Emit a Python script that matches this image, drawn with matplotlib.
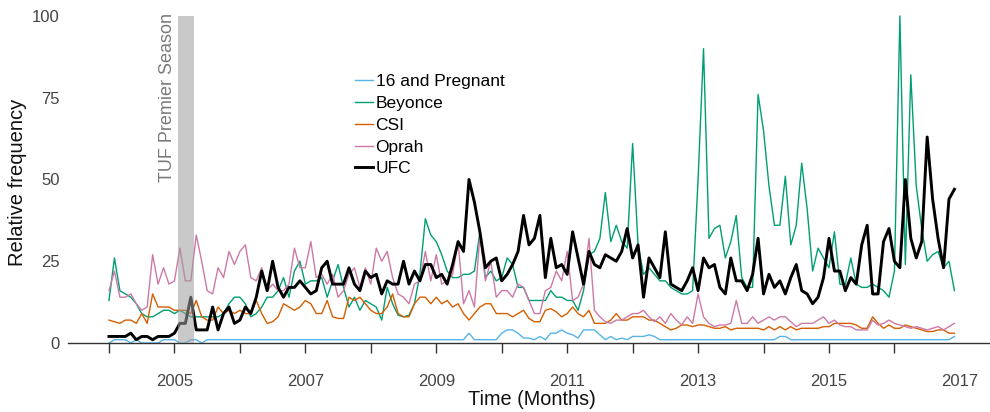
import numpy as np
import matplotlib
matplotlib.use("Agg")
import matplotlib.pyplot as plt

plt.rcParams["font.family"] = ["Liberation Sans", "DejaVu Sans"]

# monthly relative search frequency, Jan 2004 - Dec 2016
start_year = 2004
n_months = 156

ufc = [
    2, 2, 2, 2, 3, 1, 2, 2, 1, 2, 2, 2,
    3, 6, 6, 14, 4, 4, 4, 11, 4, 9, 11, 6,
    7, 11, 9, 14, 22, 16, 25, 17, 14, 17, 17, 19,
    17, 15, 16, 23, 25, 18, 18, 18, 23, 18, 16, 22,
    20, 21, 15, 19, 18, 18, 25, 18, 22, 19, 24, 24,
    20, 21, 18, 24, 31, 28, 50, 43, 34, 23, 25, 26,
    19, 21, 24, 28, 39, 30, 32, 39, 20, 32, 23, 24,
    21, 34, 26, 18, 28, 24, 23, 27, 26, 25, 28, 35,
    26, 30, 14, 26, 23, 20, 34, 18, 17, 16, 19, 23,
    16, 26, 23, 24, 17, 15, 26, 19, 19, 16, 21, 32,
    15, 21, 17, 19, 15, 20, 24, 16, 15, 12, 14, 20,
    32, 22, 22, 16, 20, 18, 30, 36, 15, 15, 31, 35,
    25, 23, 50, 32, 26, 31, 63, 44, 32, 23, 44, 47,
]

beyonce = [
    13, 26, 16, 15, 14, 12, 9, 8, 8, 9, 10, 10,
    9, 10, 9, 8, 8, 8, 8, 8, 8, 9, 12, 14,
    14, 12, 8, 9, 11, 14, 14, 16, 20, 14, 22, 25,
    18, 19, 19, 20, 14, 19, 24, 17, 11, 14, 10, 13,
    12, 11, 7, 17, 12, 8.5, 8, 8.5, 12, 21, 38, 33,
    31, 27, 22, 20, 20, 21, 21, 22, 34, 20, 22, 19,
    20, 26, 24, 17, 17, 13, 13, 13, 13, 16, 14, 14,
    13, 13, 10, 16, 27, 28, 32, 46, 31, 36, 31, 29,
    61, 30, 21, 23, 21, 19, 19, 17, 16, 15, 15, 16,
    50, 90, 32, 35, 36, 26, 31, 39, 20, 17, 17, 76,
    65, 48, 36, 36, 51, 30, 36, 55, 41, 22, 29, 26,
    23, 34, 18, 18, 26, 18, 17, 17, 18, 17, 16, 14,
    22, 100, 24, 82, 48, 35, 25, 27, 28, 23, 25, 16,
]

csi = [
    7, 6.5, 6, 7, 7, 6, 9, 6, 15, 11, 11, 11,
    10, 10, 10, 9, 13, 8, 7, 7, 11, 9, 10, 9,
    10, 9, 9, 13, 9, 6, 6.5, 8, 12, 11, 10, 11,
    13, 12, 9, 9, 13, 8, 7.5, 7.5, 14, 13, 14, 12,
    10, 9, 9, 11, 15, 9, 8, 8, 12, 14, 14, 12,
    14, 12, 13, 11, 12, 9, 7, 9, 11, 12, 12, 9,
    9, 9, 8, 9, 10, 7.5, 6.5, 6.5, 10, 10.5, 9.5, 8,
    9, 11, 9, 8, 10, 6, 6, 6, 7, 9, 7, 7,
    8, 8, 8, 7, 7, 6, 5, 4, 4.5, 5.5, 5.5, 5,
    5.5, 5.5, 5, 4.5, 4.5, 5, 4, 4.5, 4.5, 4.5, 4.5, 4.5,
    4, 5, 4, 5, 4, 5, 4, 4.5, 4.5, 4.5, 4.5, 5,
    5, 6, 6, 6, 6, 5.5, 4.5, 4.5, 8, 6, 4.5, 5.5,
    4.5, 4.5, 5.5, 5, 4.5, 4, 3.5, 3.5, 4, 4, 3, 3,
]

oprah = [
    16, 22, 14, 14, 15, 12, 10, 11, 27, 18, 23, 18,
    19, 29, 19, 19, 33, 25, 16, 15, 23, 20, 28, 24,
    28, 30, 20, 19, 23, 16, 18, 16, 16, 18, 29, 23,
    23, 31, 20, 21, 18, 21, 14, 16, 21, 23, 17, 23,
    18, 29, 25, 28, 20, 15, 14, 12, 18, 19, 28, 19,
    27, 18, 19, 21, 31, 12, 16, 11, 33, 19, 25, 14,
    16, 16, 14, 18, 17, 13, 9, 9, 16, 17, 22, 19,
    28, 13, 14, 18, 32, 10, 8, 6.5, 6, 7, 7, 8,
    9, 9, 10, 8, 6.5, 8, 6, 9, 7, 5.5, 8, 6,
    15, 8, 6, 5, 5.5, 5.5, 6, 13, 6, 6, 8, 6,
    7, 8, 7, 8, 8, 6.5, 5, 6, 6, 6, 7, 8,
    6, 7, 5.5, 5, 5, 4, 4, 4, 7, 5.5, 6, 7,
    6, 5.5, 5, 4.5, 5, 4.5, 4, 4.5, 5, 4, 5, 6,
]

pregnant16 = [
    0, 1, 1, 1, 0, 1, 0, 0, 0, 0, 1, 1,
    1, 0, 0, 1, 1, 0, 1, 1, 1, 1, 1, 1,
    1, 1, 1, 1, 1, 1, 1, 1, 1, 1, 1, 1,
    1, 1, 1, 1, 1, 1, 1, 1, 1, 1, 1, 1,
    1, 1, 1, 1, 1, 1, 1, 1, 1, 1, 1, 1,
    1, 1, 1, 1, 1, 1, 3, 1, 1, 1, 1, 1,
    3, 4, 4, 3, 1.5, 1.5, 1, 2, 1, 3, 3, 4,
    3, 2.5, 1.5, 4, 4, 4, 2.5, 1, 2, 1, 1.5, 1,
    2, 2, 2, 2.5, 2, 1, 1, 1, 1, 1, 1, 1,
    1, 1, 1, 1, 1, 1, 1, 1, 1, 1, 1, 1,
    1, 1, 1, 2, 2, 1, 1, 1, 1, 1, 1, 1,
    1, 1, 1, 1, 1, 1, 1, 1, 1, 1, 1, 1,
    1, 1, 1, 1, 1, 1, 1, 1, 1, 1, 1, 2,
]

series_names = ["16 and Pregnant", "Beyonce", "CSI", "Oprah", "UFC"]
series_colors = ["#56B4E9", "#009E73", "#D55E00", "#CC79A7", "black"]
series_widths = [1.0, 1.0, 1.0, 1.0, 2.1]

tuf_start, tuf_end = 2005.05, 2005.30

months = start_year + np.arange(n_months) / 12.0

fig = plt.figure(figsize=(9.9, 4.12), dpi=100)
ax = fig.add_axes([0.0687, 0.1675, 0.9313, 0.7937])

for name, vals, col, lw in zip(series_names,
                               [pregnant16, beyonce, csi, oprah, ufc],
                               series_colors, series_widths):
    ax.plot(months, vals, color=col, lw=lw, label=name, clip_on=False)

ax.axvspan(tuf_start, tuf_end, color="#9e9e9e", alpha=0.55, lw=0, zorder=5)
ax.text(2004.9, 100.8, "TUF Premier Season", rotation=90, ha="center", va="top",
        fontsize=13, color="#7a7a7a")

ax.set_xlim(2003.374, 2017.46)
ax.set_ylim(0, 100)

years = list(range(2004, 2018))
ax.set_xticks(years)
ax.set_xticklabels([str(y) if y % 2 == 1 else "" for y in years])
ax.xaxis.get_major_ticks()[-1].tick1line.set_visible(False)
ax.tick_params(axis="x", length=7, width=1, color="#333333", pad=15,
               labelsize=12, labelcolor="#444444")
ax.set_yticks([0, 25, 50, 75, 100])
ax.tick_params(axis="y", length=0, pad=6, labelsize=12, labelcolor="#444444")

for s in ["top", "right", "left"]:
    ax.spines[s].set_visible(False)
ax.spines["bottom"].set_color("#333333")
ax.spines["bottom"].set_linewidth(1)

ax.set_xlabel("Time (Months)", fontsize=14.3, color="#111111")
ax.xaxis.set_label_coords(0.5035, -0.145)
ax.set_ylabel("Relative frequency", fontsize=14.5, color="#111111")
ax.yaxis.set_label_coords(-0.0445, 0.49)

ax.legend(loc="upper left", bbox_to_anchor=(0.311, 0.822), frameon=False,
          fontsize=12.5, handlelength=1.05, handletextpad=0.15, labelspacing=0.38,
          borderaxespad=0, borderpad=0)

fig.savefig("out.png", dpi=100)
